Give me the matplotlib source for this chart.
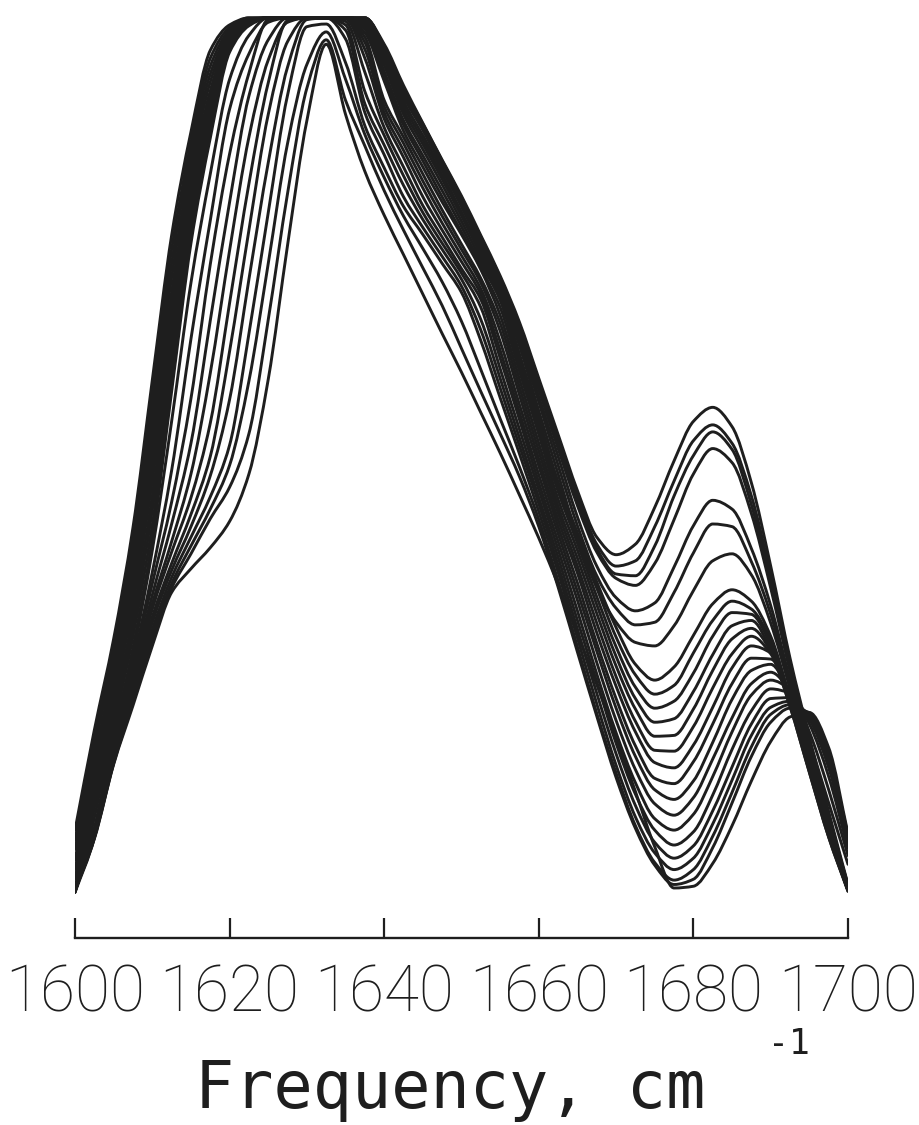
import matplotlib
matplotlib.use("Agg")
import matplotlib.pyplot as plt
import numpy as np
from matplotlib.path import Path
from matplotlib.patches import PathPatch

# wavenumber grid, cm^-1
frequency = [1600.0, 1602.5, 1605.0, 1607.5, 1610.0, 1612.5, 1615.0, 1617.5, 1620.0, 1622.5,
             1625.0, 1627.5, 1630.0, 1632.5, 1635.0, 1637.5, 1640.0, 1642.5, 1645.0, 1647.5,
             1650.0, 1652.5, 1655.0, 1657.5, 1660.0, 1662.5, 1665.0, 1667.5, 1670.0, 1672.5,
             1675.0, 1677.5, 1680.0, 1682.5, 1685.0, 1687.5, 1690.0, 1692.5, 1695.0, 1697.5,
             1700.0]

# normalised absorbance (0-100, clipped at the top)
spectrum_01 = [7.4, 18.8, 29.2, 41.9, 58.7, 75.2, 87.0, 96.3, 99.2, 100, 100, 100, 100, 100, 100, 100,
               97.0, 92.3, 88.0, 83.8, 79.7, 75.2, 70.6, 65.3, 58.9, 52.5, 46.1, 40.8, 38.8, 40.0,
               44.2, 49.5, 54.0, 55.6, 53.4, 47.0, 37.5, 27.0, 18.0, 9.5, 1.2]
spectrum_02 = [6.3, 17.7, 28.2, 40.7, 57.1, 73.6, 85.8, 95.4, 98.9, 100, 100, 100, 100, 100, 100, 100,
               96.8, 92.0, 87.9, 83.7, 79.5, 75.0, 70.4, 65.0, 58.5, 52.0, 45.5, 40.0, 37.5, 38.1,
               42.0, 47.2, 51.8, 53.6, 51.5, 45.5, 36.5, 26.5, 17.6, 9.2, 1.0]
spectrum_03 = [5.2, 16.6, 27.2, 39.4, 55.4, 72.0, 84.7, 94.5, 98.6, 99.9, 100, 100, 100, 100, 100, 100,
               96.7, 91.8, 87.8, 83.6, 79.4, 74.9, 70.2, 64.7, 58.2, 51.6, 45.0, 39.5, 36.6, 36.4,
               39.8, 45.5, 50.1, 52.8, 50.8, 44.5, 35.8, 26.0, 17.2, 9.0, 0.9]
spectrum_04 = [4.0, 15.4, 26.1, 38.2, 53.8, 70.4, 83.5, 93.6, 98.3, 99.8, 100, 100, 100, 100, 100, 100,
               96.5, 91.5, 87.5, 83.3, 79.2, 74.6, 70.0, 64.3, 57.6, 50.9, 44.4, 39.1, 36.1, 35.3,
               37.8, 42.8, 48.0, 50.9, 49.3, 43.5, 35.0, 25.5, 16.8, 8.8, 0.8]
spectrum_05 = [2.9, 14.3, 25.1, 36.9, 52.1, 68.7, 82.4, 92.7, 98.1, 99.7, 100, 100, 100, 100, 100, 99.8,
               96.2, 91.0, 87.2, 83.0, 78.8, 74.2, 69.6, 63.7, 56.8, 50.0, 43.1, 37.5, 33.9, 32.4,
               33.3, 37.4, 42.1, 45.0, 44.0, 39.5, 33.0, 24.5, 16.2, 8.5, 0.8]
spectrum_06 = [1.8, 13.2, 24.1, 35.7, 50.5, 67.1, 81.2, 91.7, 97.8, 99.6, 100, 100, 100, 100, 100, 99.8,
               95.9, 90.5, 86.6, 82.6, 78.5, 73.8, 69.1, 63.2, 56.2, 49.0, 42.1, 36.4, 32.7, 30.8,
               31.1, 34.5, 39.0, 42.3, 42.0, 38.0, 32.0, 24.0, 15.8, 8.2, 0.7]
spectrum_07 = [0.7, 12.1, 23.1, 34.4, 48.8, 65.5, 80.1, 90.8, 97.5, 99.5, 100, 100, 100, 100, 100, 99.6,
               95.5, 90.0, 86.1, 82.1, 77.9, 73.3, 68.7, 62.6, 55.2, 48.0, 40.8, 35.1, 31.1, 28.8,
               28.4, 30.7, 34.7, 38.1, 38.9, 36.5, 31.0, 23.5, 15.3, 7.8, 0.6]
spectrum_08 = [0.5, 11.0, 22.1, 33.2, 47.2, 63.9, 78.9, 89.9, 97.2, 99.5, 100, 100, 100, 100, 100, 99.4,
               95.2, 89.5, 85.6, 81.6, 77.4, 73.0, 68.5, 61.7, 54.4, 47.1, 41.3, 35.7, 30.5, 26.3,
               24.5, 26.0, 29.6, 33.2, 34.8, 33.5, 29.5, 22.5, 14.8, 7.5, 0.6]
spectrum_09 = [0.4, 9.9, 21.0, 31.9, 45.5, 62.3, 77.7, 89.0, 96.9, 99.4, 100, 100, 100, 100, 100, 99.2,
               94.6, 89.0, 85.0, 81.0, 76.8, 72.5, 68.1, 61.1, 53.8, 46.5, 40.7, 35.0, 29.4, 25.1,
               22.9, 23.9, 27.6, 31.3, 33.5, 32.6, 29.0, 22.2, 14.5, 7.2, 0.5]
spectrum_10 = [0.3, 8.8, 20.0, 30.7, 43.9, 60.7, 76.6, 88.1, 96.6, 99.3, 100, 100, 100, 100, 100, 99.0,
               93.9, 88.3, 84.3, 80.3, 76.2, 72.0, 67.8, 60.5, 53.2, 46.0, 40.1, 34.0, 28.3, 23.7,
               21.3, 22.1, 25.3, 29.5, 32.2, 32.0, 28.5, 22.0, 14.3, 7.0, 0.5]
spectrum_11 = [0.3, 7.6, 19.0, 29.5, 42.2, 59.0, 75.4, 87.2, 96.4, 99.2, 100, 100, 100, 100, 100, 98.7,
               93.4, 87.8, 83.7, 79.6, 75.6, 71.5, 67.0, 59.7, 52.5, 45.1, 39.3, 33.1, 27.2, 22.4,
               19.7, 20.1, 23.2, 27.4, 30.7, 31.3, 28.0, 21.8, 14.2, 6.8, 0.5]
spectrum_12 = [0.3, 6.5, 18.0, 28.2, 40.6, 57.4, 74.3, 86.3, 96.1, 99.1, 100, 100, 100, 100, 100, 98.3,
               92.8, 87.1, 83.0, 79.0, 75.3, 71.3, 66.1, 58.8, 51.5, 44.3, 38.4, 32.1, 26.1, 21.2,
               18.1, 18.2, 21.2, 25.6, 29.2, 30.4, 27.8, 21.5, 14.0, 6.6, 0.4]
spectrum_13 = [0.5, 7.5, 17.0, 27.4, 39.3, 54.0, 69.8, 82.2, 93.0, 98.0, 100, 100, 100, 100, 100, 97.8,
               90.6, 86.4, 82.2, 78.1, 74.2, 70.3, 65.2, 57.9, 50.6, 43.6, 37.5, 31.0, 24.9, 19.8,
               16.5, 16.4, 19.2, 23.6, 27.5, 29.5, 27.5, 21.5, 14.0, 6.6, 0.5]
spectrum_14 = [0.5, 7.4, 16.7, 26.5, 36.8, 48.4, 63.4, 76.9, 89.6, 95.9, 99.5, 100, 100, 100, 100, 97.2,
               89.9, 85.7, 81.4, 77.4, 73.6, 69.8, 64.3, 57.0, 49.7, 42.8, 36.7, 29.9, 23.8, 18.6,
               15.1, 14.5, 17.1, 21.4, 25.9, 28.4, 27.6, 22.5, 15.0, 7.2, 0.6]
spectrum_15 = [0.5, 7.3, 16.5, 26.0, 35.5, 44.8, 56.6, 71.9, 84.5, 93.7, 99.8, 100, 100, 100, 100, 96.4,
               89.2, 84.9, 80.6, 76.6, 72.9, 69.1, 63.1, 55.9, 48.9, 42.0, 35.6, 28.7, 22.4, 17.0,
               13.3, 12.7, 15.2, 19.5, 24.1, 27.0, 26.9, 22.8, 15.6, 7.8, 0.8]
spectrum_16 = [0.5, 7.2, 16.2, 25.3, 34.2, 42.3, 51.5, 65.5, 79.0, 91.1, 97.5, 100, 100, 100, 99.9, 95.4,
               88.5, 84.1, 79.6, 75.8, 72.2, 68.5, 62.1, 55.0, 47.9, 41.2, 34.6, 27.8, 21.3, 15.8,
               12.0, 10.9, 13.0, 17.4, 22.3, 25.6, 26.3, 22.8, 16.2, 8.5, 1.2]
spectrum_17 = [0.5, 7.1, 16.0, 24.6, 33.2, 40.3, 48.0, 59.5, 73.5, 86.4, 95.2, 99.5, 100, 100, 99.6, 93.8,
               87.5, 83.0, 78.6, 75.0, 71.4, 67.9, 61.2, 54.2, 47.0, 40.3, 33.6, 26.5, 19.9, 14.3,
               10.4, 9.1, 11.1, 15.5, 20.2, 24.1, 25.4, 23.2, 17.5, 10.5, 3.5]
spectrum_18 = [0.5, 7.0, 15.8, 24.2, 32.6, 39.1, 45.3, 53.8, 67.5, 81.1, 92.6, 99.7, 100, 100, 99.2, 91.6,
               86.6, 82.0, 77.8, 74.3, 70.9, 67.0, 60.0, 53.1, 46.2, 39.4, 32.4, 25.2, 18.5, 12.8,
               8.7, 7.4, 9.2, 13.5, 18.6, 22.8, 24.5, 23.4, 18.6, 12.0, 4.5]
spectrum_19 = [0.5, 6.9, 15.6, 23.6, 31.7, 37.8, 43.4, 50.0, 62.0, 75.8, 89.0, 97.3, 100, 100, 98.6, 90.2,
               85.5, 80.9, 77.0, 73.6, 70.2, 65.6, 58.9, 52.1, 45.3, 38.5, 31.3, 24.3, 17.3, 11.5,
               7.4, 5.7, 7.2, 11.4, 16.6, 21.0, 23.5, 23.0, 19.5, 13.5, 5.3]
spectrum_20 = [0.5, 6.8, 15.5, 23.3, 31.1, 37.0, 42.0, 47.8, 56.5, 70.2, 83.5, 94.4, 99.8, 100, 97.6, 89.2,
               84.4, 79.6, 76.1, 72.8, 69.4, 64.4, 57.8, 51.2, 44.6, 37.6, 30.3, 23.0, 16.1, 10.2,
               6.0, 4.2, 5.6, 9.6, 14.6, 19.5, 22.4, 22.5, 20.0, 14.5, 5.8]
spectrum_21 = [0.5, 6.7, 15.3, 22.8, 30.3, 36.2, 40.8, 45.4, 51.3, 64.0, 77.8, 91.2, 99.0, 99.3, 94.9, 87.7,
               82.9, 78.5, 75.3, 72.0, 68.7, 63.2, 56.7, 50.3, 43.7, 36.8, 29.3, 21.8, 14.8, 8.9,
               4.8, 2.9, 4.2, 8.1, 13.1, 18.2, 21.4, 22.1, 20.3, 15.0, 6.2]
spectrum_22 = [0.5, 6.6, 15.1, 22.4, 29.6, 35.5, 39.8, 44.0, 49.0, 58.6, 72.0, 85.7, 94.7, 98.4, 93.0, 86.7,
               81.8, 77.4, 73.7, 69.9, 65.4, 59.9, 54.3, 48.8, 42.8, 35.8, 28.3, 20.7, 13.9, 7.9,
               3.7, 1.7, 2.9, 6.7, 11.7, 16.9, 20.6, 21.7, 20.6, 15.6, 6.5]
spectrum_23 = [0.5, 6.5, 15.0, 22.0, 29.1, 35.0, 38.9, 42.9, 46.5, 52.6, 65.6, 80.0, 92.0, 97.5, 90.6, 85.4,
               80.3, 75.8, 71.5, 67.2, 62.3, 57.4, 52.6, 47.7, 42.0, 35.1, 27.7, 20.4, 13.4, 7.6,
               3.4, 1.2, 1.8, 5.4, 10.5, 15.8, 19.7, 21.3, 20.8, 16.2, 6.8]
spectrum_24 = [0.5, 6.4, 14.9, 21.6, 28.4, 34.5, 37.2, 39.6, 42.6, 48.0, 58.8, 74.1, 88.3, 97.0, 89.0, 82.5,
               77.5, 73.0, 68.5, 64.0, 59.6, 55.0, 50.4, 45.6, 40.7, 35.4, 29.8, 24.0, 18.0, 11.8,
               5.5, 0.8, 1.0, 3.6, 7.9, 13.0, 17.5, 20.3, 20.8, 16.8, 7.0]

spectra = [spectrum_01, spectrum_02, spectrum_03, spectrum_04, spectrum_05, spectrum_06,
           spectrum_07, spectrum_08, spectrum_09, spectrum_10, spectrum_11, spectrum_12,
           spectrum_13, spectrum_14, spectrum_15, spectrum_16, spectrum_17, spectrum_18,
           spectrum_19, spectrum_20, spectrum_21, spectrum_22, spectrum_23, spectrum_24]

tick_values = [1600, 1620, 1640, 1660, 1680, 1700]
tick_labels = ["1600", "1620", "1640", "1660", "1680", "1700"]

ink = "#1e1e1e"


def smooth_trace(x, y):
    """Bezier path through the measured points (monotone cubic tangents, no overshoot)."""
    x = np.asarray(x, float)
    y = np.asarray(y, float)
    h = np.diff(x)
    d = np.diff(y) / h
    m = np.zeros_like(y)
    m[0], m[-1] = d[0], d[-1]
    for k in range(1, len(y) - 1):
        if d[k - 1] * d[k] > 0:
            w1 = 2 * h[k] + h[k - 1]
            w2 = h[k] + 2 * h[k - 1]
            m[k] = (w1 + w2) / (w1 / d[k - 1] + w2 / d[k])
    verts = [(x[0], y[0])]
    codes = [Path.MOVETO]
    for k in range(len(x) - 1):
        verts += [(x[k] + h[k] / 3, y[k] + m[k] * h[k] / 3),
                  (x[k + 1] - h[k] / 3, y[k + 1] - m[k + 1] * h[k] / 3),
                  (x[k + 1], y[k + 1])]
        codes += [Path.CURVE4] * 3
    return Path(verts, codes)


fig = plt.figure(figsize=(9.2, 11.25), dpi=100)
ax = fig.add_axes([75 / 920, (1125 - 938) / 1125, (848 - 75) / 920, (938 - 10) / 1125])

for spec in spectra:
    ax.add_patch(PathPatch(smooth_trace(frequency, spec), fill=False, edgecolor=ink, lw=2.1,
                           joinstyle="round", capstyle="round"))

ax.set_xlim(1600, 1700)
ax.set_ylim(-4.9, 100.9)

for side in ["left", "right", "top"]:
    ax.spines[side].set_visible(False)
ax.spines["bottom"].set_linewidth(1.7)
ax.spines["bottom"].set_color(ink)

ax.set_yticks([])
ax.set_xticks(tick_values)
ax.set_xticklabels(tick_labels, fontfamily="Roboto", fontweight="light", fontsize=46, color=ink)
ax.tick_params(axis="x", direction="in", length=14.5, width=1.6, color=ink, pad=18)

fig.text(195 / 920, 1 - 1108 / 1125, "Frequency, cm", fontfamily="DejaVu Sans Mono",
         fontsize=47, color=ink, ha="left", va="baseline")
fig.text(768 / 920, 1 - 1054 / 1125, "-1", fontfamily="DejaVu Sans Mono",
         fontsize=25, color=ink, ha="left", va="baseline")

fig.savefig("out.png", dpi=100, facecolor="white")
